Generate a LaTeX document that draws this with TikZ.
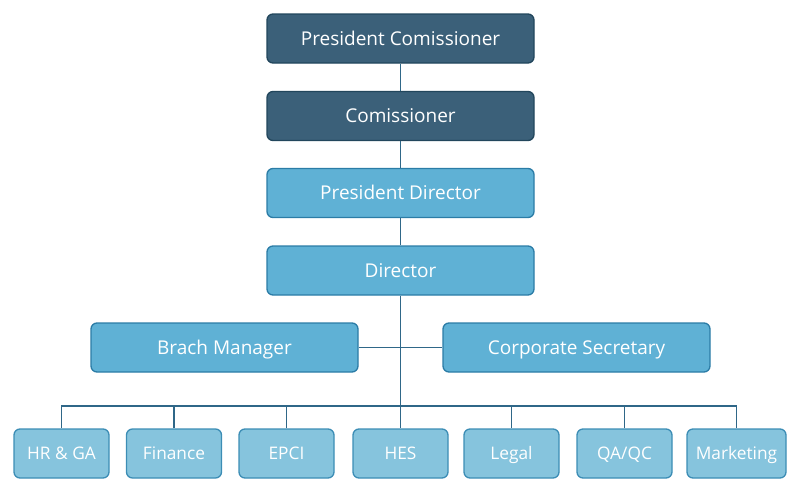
\documentclass[tikz,border=0pt]{standalone}
\usepackage{fontspec}
\setmainfont{Open Sans}
\definecolor{darkfill}{HTML}{3B6079}
\definecolor{darkline}{HTML}{22465C}
\definecolor{midfill}{HTML}{5FB1D5}
\definecolor{midline}{HTML}{2B7CA6}
\definecolor{lightfill}{HTML}{86C4DD}
\definecolor{lightline}{HTML}{3C8DB5}
\definecolor{conn}{HTML}{2F6788}
\begin{document}
\begin{tikzpicture}[x=1pt,y=-1pt,
  box/.style={rounded corners=6pt,line width=1.3pt,text=white,font=\fontsize{19}{22}\selectfont,inner sep=0pt,text height=13.6pt,text depth=0pt,anchor=center},
  topbox/.style={box,draw=darkline,fill=darkfill,minimum width=267pt,minimum height=49pt},
  midbox/.style={box,draw=midline,fill=midfill,minimum width=267pt,minimum height=49pt},
  lowbox/.style={box,draw=lightline,fill=lightfill,minimum width=95pt,minimum height=49pt,font=\fontsize{17.3}{20}\selectfont,text height=12.3pt},
  link/.style={draw=conn,line width=1.5pt}]
\useasboundingbox (0,0) rectangle (800,493);
\node[topbox] (pc) at (400.5,38.5) {President Comissioner};
\node[topbox] (com) at (400.5,116) {Comissioner};
\node[midbox] (pd) at (400.5,193) {President Director};
\node[midbox] (dir) at (400.5,270.5) {Director};
\node[midbox] (bm) at (224.5,347.5) {Brach Manager};
\node[midbox] (cs) at (576.5,347.5) {Corporate Secretary};
\node[lowbox] (hr) at (61.5,453.5) {HR \& GA};
\node[lowbox] (fin) at (174,453.5) {Finance};
\node[lowbox] (epci) at (286.5,453.5) {EPCI};
\node[lowbox] (hes) at (400.5,453.5) {HES};
\node[lowbox] (leg) at (511.5,453.5) {Legal};
\node[lowbox] (qa) at (624.5,453.5) {QA/QC};
\node[lowbox,minimum width=99pt] (mkt) at (736.5,453.5) {Marketing};
\coordinate (bus) at (400.5,406);
\draw[link] (pc) -- (com);
\draw[link] (com) -- (pd);
\draw[link] (pd) -- (dir);
\draw[link] (dir) -- (hes);
\draw[link] (bm) -- (cs);
\draw[link] (hr.north) -- (hr.north |- bus) -- (mkt.north |- bus) -- (mkt.north);
\draw[link] (fin.north) -- (fin.north |- bus);
\draw[link] (epci.north) -- (epci.north |- bus);
\draw[link] (leg.north) -- (leg.north |- bus);
\draw[link] (qa.north) -- (qa.north |- bus);
\end{tikzpicture}
\end{document}
